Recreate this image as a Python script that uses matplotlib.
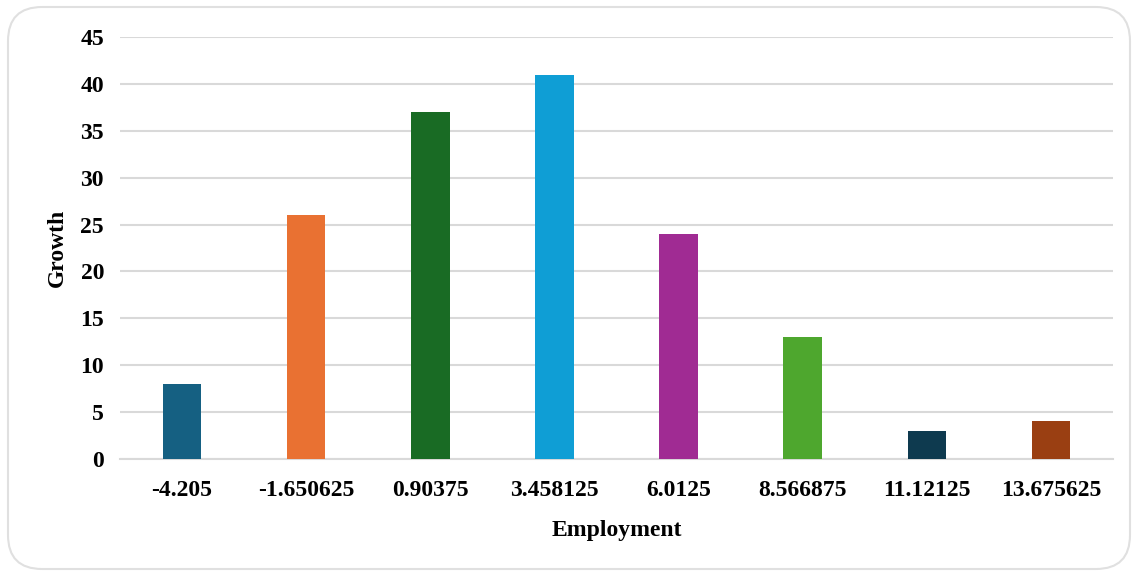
import matplotlib.pyplot as plt
import numpy as np
from matplotlib.patches import FancyBboxPatch

# bin centres (employment) and counts (growth)
categories = ['-4.205', '-1.650625', '0.90375', '3.458125', '6.0125',
              '8.566875', '11.12125', '13.675625']
counts = [8, 26, 37, 41, 24, 13, 3, 4]
colors = ['#156082', '#e97132', '#196b24', '#0f9ed5', '#a02b93',
          '#4ea72e', '#0e3a4f', '#9a3f12']
yticks = [0, 5, 10, 15, 20, 25, 30, 35, 40, 45]

plt.rcParams['font.family'] = ['Liberation Serif', 'DejaVu Serif']
plt.rcParams['font.weight'] = 'bold'

fig = plt.figure(figsize=(11.36, 5.72), dpi=100)
ax = fig.add_axes([120/1136, 1 - 459/572, (1113-120)/1136, (459-37)/572])

# rounded frame around the whole chart
frame = FancyBboxPatch((8/1136, 3/572), (1130-8)/1136, (565-3)/572,
                       boxstyle='round,pad=0,rounding_size=0.03',
                       transform=fig.transFigure, facecolor='none',
                       edgecolor='#e0e0e0', linewidth=1.5, zorder=-1,
                       mutation_aspect=1136/572)
fig.patches.append(frame)

x = np.arange(len(categories))
ax.bar(x, counts, width=0.31, color=colors, zorder=3)

ax.set_xlim(-0.5, len(categories) - 0.5)
ax.set_ylim(0, 45)
ax.set_yticks(yticks)
ax.set_xticks(x)
ax.set_xticklabels(categories)
ax.yaxis.grid(True, color='#d9d9d9', linewidth=1.5, zorder=0)
ax.set_axisbelow(True)

for s in ['top', 'right', 'left']:
    ax.spines[s].set_visible(False)
ax.spines['bottom'].set_color('#d9d9d9')
ax.spines['bottom'].set_linewidth(1.5)

ax.tick_params(axis='both', length=0, labelsize=17)
ax.tick_params(axis='y', pad=11.5)
ax.tick_params(axis='x', pad=15)

ax.set_xlabel('Employment', fontsize=17, fontweight='bold', labelpad=14)
ax.set_ylabel('Growth', fontsize=17, fontweight='bold', labelpad=9)

fig.savefig('out.png', dpi=100)
